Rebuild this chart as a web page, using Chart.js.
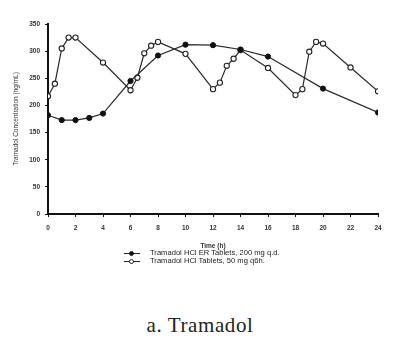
<!DOCTYPE html>
<html>
<head>
<meta charset="utf-8">
<script src="https://cdn.jsdelivr.net/npm/chart.js@4.4.1/dist/chart.umd.min.js"></script>
<style>
    body { margin: 0; background: #fff; width: 400px; height: 346px; overflow: hidden; position: relative; font-family: Arial, "Liberation Sans", sans-serif; }
    #wrap { position: absolute; left: 0; top: 0; width: 400px; height: 250px; }
    .legend { position: absolute; left: 124px; top: 249px; font-size: 7.6px; color: #222; line-height: 8px; }
    .legend-item { display: flex; align-items: center; height: 8px; }
    .legend-sym { position: relative; width: 16px; height: 8px; margin-right: 10px; }
    .legend-sym .ln { position: absolute; left: 0; right: 0; top: 3.5px; height: 1px; background: #222; }
    .legend-sym .dot { position: absolute; left: 5px; top: 1.5px; border-radius: 50%; border: 1px solid #222; box-sizing: border-box; width: 5px; height: 5px; }
    .caption { position: absolute; left: 0; width: 400px; top: 313px; text-align: center; font-family: "Liberation Serif", "DejaVu Serif", serif; font-size: 21px; letter-spacing: 0.6px; color: #222; }
</style>
</head>
<body>
<div id="wrap"><canvas id="tramadolChart"></canvas></div>
<div class="legend" id="legend-container"></div>
<div class="caption">a. Tramadol</div>
<script>
// hours and concentrations (ng/mL)
const erTimes = [0, 1, 2, 3, 4, 6, 8, 10, 12, 14, 16, 20, 24];
const erValues = [182, 173, 173, 177, 185, 245, 292, 312, 311, 303, 290, 231, 187];

const irTimes = [0, 0.5, 1, 1.5, 2, 4, 6, 6.5, 7, 7.5, 8, 10, 12, 12.5, 13, 13.5, 14, 16, 18, 18.5, 19, 19.5, 20, 22, 24];
const irValues = [217, 240, 305, 325, 325, 279, 228, 251, 296, 310, 317, 295, 230, 242, 273, 286, 302, 269, 219, 230, 299, 317, 314, 270, 226];

const xTicks = [0, 2, 4, 6, 8, 10, 12, 14, 16, 18, 20, 22, 24];
const yTicks = [0, 50, 100, 150, 200, 250, 300, 350];

const seriesLabels = ['Tramadol HCl ER Tablets, 200 mg q.d.', 'Tramadol HCl Tablets, 50 mg q6h.'];

const toPoints = (xs, ys) => xs.map((x, i) => ({ x: x, y: ys[i] }));

const tickFont = { size: 6.5, weight: 'bold', family: 'Arial' };

const ctx = document.getElementById('tramadolChart').getContext('2d');
const tramadolChart = new Chart(ctx, {
    type: 'line',
    data: {
        datasets: [{
            label: seriesLabels[0],
            data: toPoints(erTimes, erValues),
            borderColor: '#2a2a2a',
            backgroundColor: '#111',
            borderWidth: 1.2,
            pointRadius: 2.6,
            pointBorderWidth: 1,
            pointBorderColor: '#111',
            pointBackgroundColor: '#111',
            tension: 0
        }, {
            label: seriesLabels[1],
            data: toPoints(irTimes, irValues),
            borderColor: '#2a2a2a',
            backgroundColor: '#fff',
            borderWidth: 1.2,
            pointRadius: 2.6,
            pointBorderWidth: 1.1,
            pointBorderColor: '#222',
            pointBackgroundColor: '#fff',
            tension: 0
        }]
    },
    options: {
        responsive: true,
        maintainAspectRatio: false,
        animation: false,
        layout: {
            padding: { left: 0, right: 22, top: 24, bottom: 0 }
        },
        scales: {
            x: {
                type: 'linear',
                min: 0,
                max: 24,
                afterBuildTicks: (scale) => { scale.ticks = xTicks.map(v => ({ value: v })); },
                afterFit: (scale) => { scale.height = 36; },
                border: { display: true, color: '#111', width: 2 },
                grid: { display: true, drawOnChartArea: false, drawTicks: true, tickLength: 3, color: '#111', lineWidth: 1 },
                ticks: { padding: 7, color: '#333', font: tickFont, maxRotation: 0, autoSkip: false },
                title: { display: true, text: 'Time (h)', color: '#333', font: { size: 6.5, weight: 'bold', family: 'Arial' }, padding: { top: 4, bottom: 0 } }
            },
            y: {
                min: 0,
                max: 350,
                afterBuildTicks: (scale) => { scale.ticks = yTicks.map(v => ({ value: v })); },
                afterFit: (scale) => { scale.width = 48; },
                border: { display: true, color: '#111', width: 2 },
                grid: { display: true, drawOnChartArea: false, drawTicks: true, tickLength: 3, color: '#111', lineWidth: 1 },
                ticks: { padding: 5, color: '#333', font: tickFont },
                title: { display: true, text: 'Tramadol Concentration (ng/mL)', color: '#333', font: { size: 6.5, family: 'Arial' }, padding: { top: 12, bottom: 6 } }
            }
        },
        plugins: {
            legend: { display: false },
            tooltip: { enabled: false }
        }
    }
});

function generateCustomLegend(chart) {
    const legendContainer = document.getElementById('legend-container');
    legendContainer.innerHTML = chart.data.datasets.map((dataset) => {
        return `
            <div class="legend-item">
                <span class="legend-sym"><span class="ln"></span><span class="dot" style="background-color: ${dataset.pointBackgroundColor};"></span></span>
                <span class="legend-label">${dataset.label}</span>
            </div>
        `;
    }).join('');
}

generateCustomLegend(tramadolChart);
</script>
</body>
</html>
